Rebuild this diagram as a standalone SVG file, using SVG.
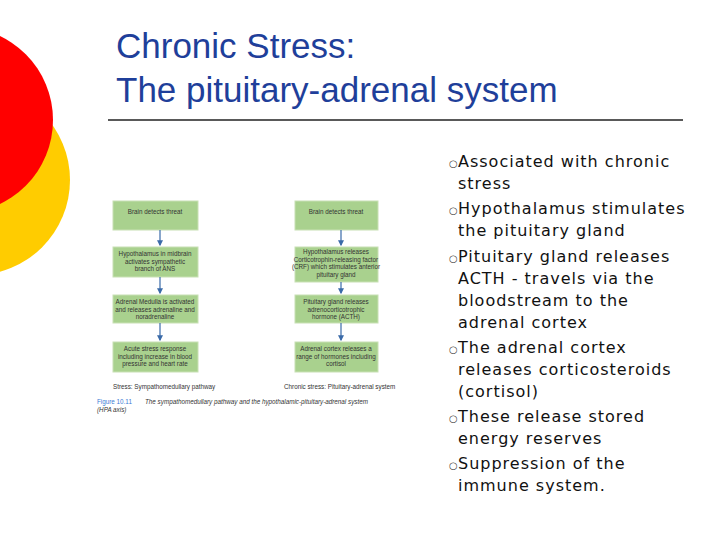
<svg xmlns="http://www.w3.org/2000/svg" width="720" height="540" viewBox="0 0 720 540">
<style>
.t{font-family:"Liberation Sans",Arial,sans-serif;font-size:35px;fill:#1f3f9a}
.b{font-family:"DejaVu Sans",sans-serif;font-size:16px;fill:#111;letter-spacing:1px}
.o{font-family:"DejaVu Sans",sans-serif;font-size:10px;fill:#444}
.bx{fill:#a9d18e;stroke:#c8e0b4;stroke-width:1}
.bt{font-family:"Liberation Sans",Arial,sans-serif;font-size:6.3px;fill:#333;text-anchor:middle}
.cap{font-family:"Liberation Sans",Arial,sans-serif;font-size:6.3px;fill:#333}
.c{stroke:#3a6aa8;stroke-width:1.2;fill:none;marker-end:url(#a)}
</style>
<defs><marker id="a" markerWidth="5" markerHeight="5" refX="4" refY="2.5" orient="auto"><path d="M0,0L5,2.5L0,5z" fill="#3a6aa8"/></marker></defs>
<rect width="720" height="540" fill="#fff"/>
<circle cx="-25" cy="180" r="95" fill="#ffcc00"/>
<circle cx="-40" cy="120" r="93" fill="#ff0000"/>
<text class="t" x="116" y="58">Chronic Stress:</text>
<text class="t" x="116" y="102">The pituitary-adrenal system</text>
<line x1="108" y1="120" x2="683" y2="120" stroke="#222" stroke-width="1.5"/>
<g id="left">
<g id="l1"><rect class="bx" x="113" y="201" width="85" height="29"/><text class="bt" x="155" y="214">Brain detects threat</text></g>
<g id="l2"><rect class="bx" x="113" y="247" width="85" height="30"/><text class="bt" x="155" y="256">Hypothalamus in midbrain<tspan x="155" dy="7.5">activates sympathetic</tspan><tspan x="155" dy="7.5">branch of ANS</tspan></text></g>
<g id="l3"><rect class="bx" x="113" y="295" width="85" height="28"/><text class="bt" x="155" y="304">Adrenal Medulla is activated<tspan x="155" dy="7.5">and releases adrenaline and</tspan><tspan x="155" dy="7.5">noradrenaline</tspan></text></g>
<g id="l4"><rect class="bx" x="113" y="342" width="85" height="30"/><text class="bt" x="155" y="351">Acute stress response<tspan x="155" dy="7.5">including increase in blood</tspan><tspan x="155" dy="7.5">pressure and heart rate</tspan></text></g>
</g>
<g id="right">
<g id="r1"><rect class="bx" x="295" y="201" width="83" height="29"/><text class="bt" x="336" y="214">Brain detects threat</text></g>
<g id="r2"><rect class="bx" x="295" y="247" width="83" height="35"/><text class="bt" x="336" y="254">Hypothalamus releases<tspan x="336" dy="7.5">Corticotrophin-releasing factor</tspan><tspan x="336" dy="7.5">(CRF) which stimulates anterior</tspan><tspan x="336" dy="7.5">pituitary gland</tspan></text></g>
<g id="r3"><rect class="bx" x="295" y="295" width="83" height="28"/><text class="bt" x="336" y="304">Pituitary gland releases<tspan x="336" dy="7.5">adrenocorticotrophic</tspan><tspan x="336" dy="7.5">hormone (ACTH)</tspan></text></g>
<g id="r4"><rect class="bx" x="295" y="342" width="83" height="30"/><text class="bt" x="336" y="351">Adrenal cortex releases a<tspan x="336" dy="7.5">range of hormones including</tspan><tspan x="336" dy="7.5">cortisol</tspan></text></g>
</g>
<g id="connectors">
<path class="c" d="M160,230V245"/><path class="c" d="M160,277V293"/><path class="c" d="M160,323V340"/>
<path class="c" d="M341,230V245"/><path class="c" d="M341,282V293"/><path class="c" d="M341,323V340"/>
</g>
<text class="cap" x="113" y="389">Stress: Sympathomedullary pathway</text>
<text class="cap" x="284" y="389">Chronic stress: Pituitary-adrenal system</text>
<text class="cap" x="97" y="404"><tspan fill="#3a7bd5">Figure 10.11</tspan><tspan x="145" font-style="italic">The sympathomedullary pathway and the hypothalamic-pituitary-adrenal system</tspan><tspan x="97" dy="8" font-style="italic">(HPA axis)</tspan></text>
<g id="bullets">
<text class="o" x="449" y="167">○</text><text class="o" x="449" y="214">○</text><text class="o" x="449" y="262">○</text><text class="o" x="449" y="353">○</text><text class="o" x="449" y="422">○</text><text class="o" x="449" y="469">○</text>
<text class="b" x="458" y="167">Associated with chronic</text>
<text class="b" x="458" y="189">stress</text>
<text class="b" x="458" y="214">Hypothalamus stimulates</text>
<text class="b" x="458" y="236">the pituitary gland</text>
<text class="b" x="458" y="262">Pituitary gland releases</text>
<text class="b" x="458" y="284">ACTH - travels via the</text>
<text class="b" x="458" y="306">bloodstream to the</text>
<text class="b" x="458" y="328">adrenal cortex</text>
<text class="b" x="458" y="353">The adrenal cortex</text>
<text class="b" x="458" y="375">releases corticosteroids</text>
<text class="b" x="458" y="397">(cortisol)</text>
<text class="b" x="458" y="422">These release stored</text>
<text class="b" x="458" y="444">energy reserves</text>
<text class="b" x="458" y="469">Suppression of the</text>
<text class="b" x="458" y="491">immune system.</text>
</g>
</svg>
